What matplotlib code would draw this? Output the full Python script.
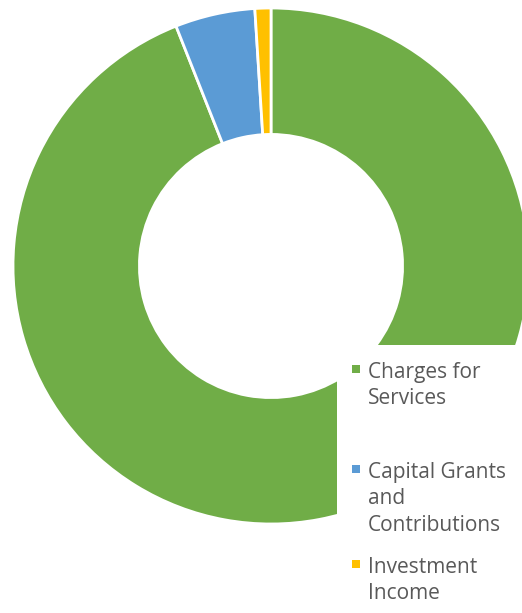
import matplotlib
matplotlib.use("Agg")
from matplotlib import pyplot as plt
from matplotlib.patches import Rectangle

# revenue shares (percent)
categories = ["Charges for Services", "Capital Grants and Contributions", "Investment Income"]
legend_labels = ["Charges for\nServices", "Capital Grants\nand\nContributions", "Investment\nIncome"]
values = [94.0, 5.0, 1.0]
colors = ["#70AD47", "#5B9BD5", "#FFC000"]

W, H = 522, 613
CX, CY, R = 271, 266, 258


def main():
    plt.rcParams['font.family'] = ['Open Sans', 'DejaVu Sans']
    fig = plt.figure(figsize=(W / 100, H / 100), dpi=100)
    ax = fig.add_axes([0, 0, 1, 1])

    ax.pie(values, colors=colors, startangle=90, counterclock=False, radius=1,
           wedgeprops=dict(width=0.49, edgecolor='white', linewidth=2))
    ax.set_aspect('auto')
    ax.set_xlim(-CX / R, (W - CX) / R)
    ax.set_ylim((CY - H) / R, CY / R)
    ax.axis('off')

    # white legend panel sitting over the ring
    fig.add_artist(Rectangle((337 / W, 0), 1, 1 - 345 / H, transform=fig.transFigure,
                             facecolor='white', edgecolor='none', zorder=2))

    tops = [360, 460, 555]
    for lab, col, top in zip(legend_labels, colors, tops):
        fig.add_artist(Rectangle((352 / W, 1 - (top + 13) / H), 8 / W, 8 / H,
                                 transform=fig.transFigure, facecolor=col,
                                 edgecolor='none', zorder=3))
        fig.text(368 / W, 1 - (top + 2) / H, lab, ha='left', va='top', fontsize=15,
                 color='#595959', linespacing=1.33, zorder=4)

    fig.savefig("out.png", dpi=100)


if __name__ == "__main__":
    main()
